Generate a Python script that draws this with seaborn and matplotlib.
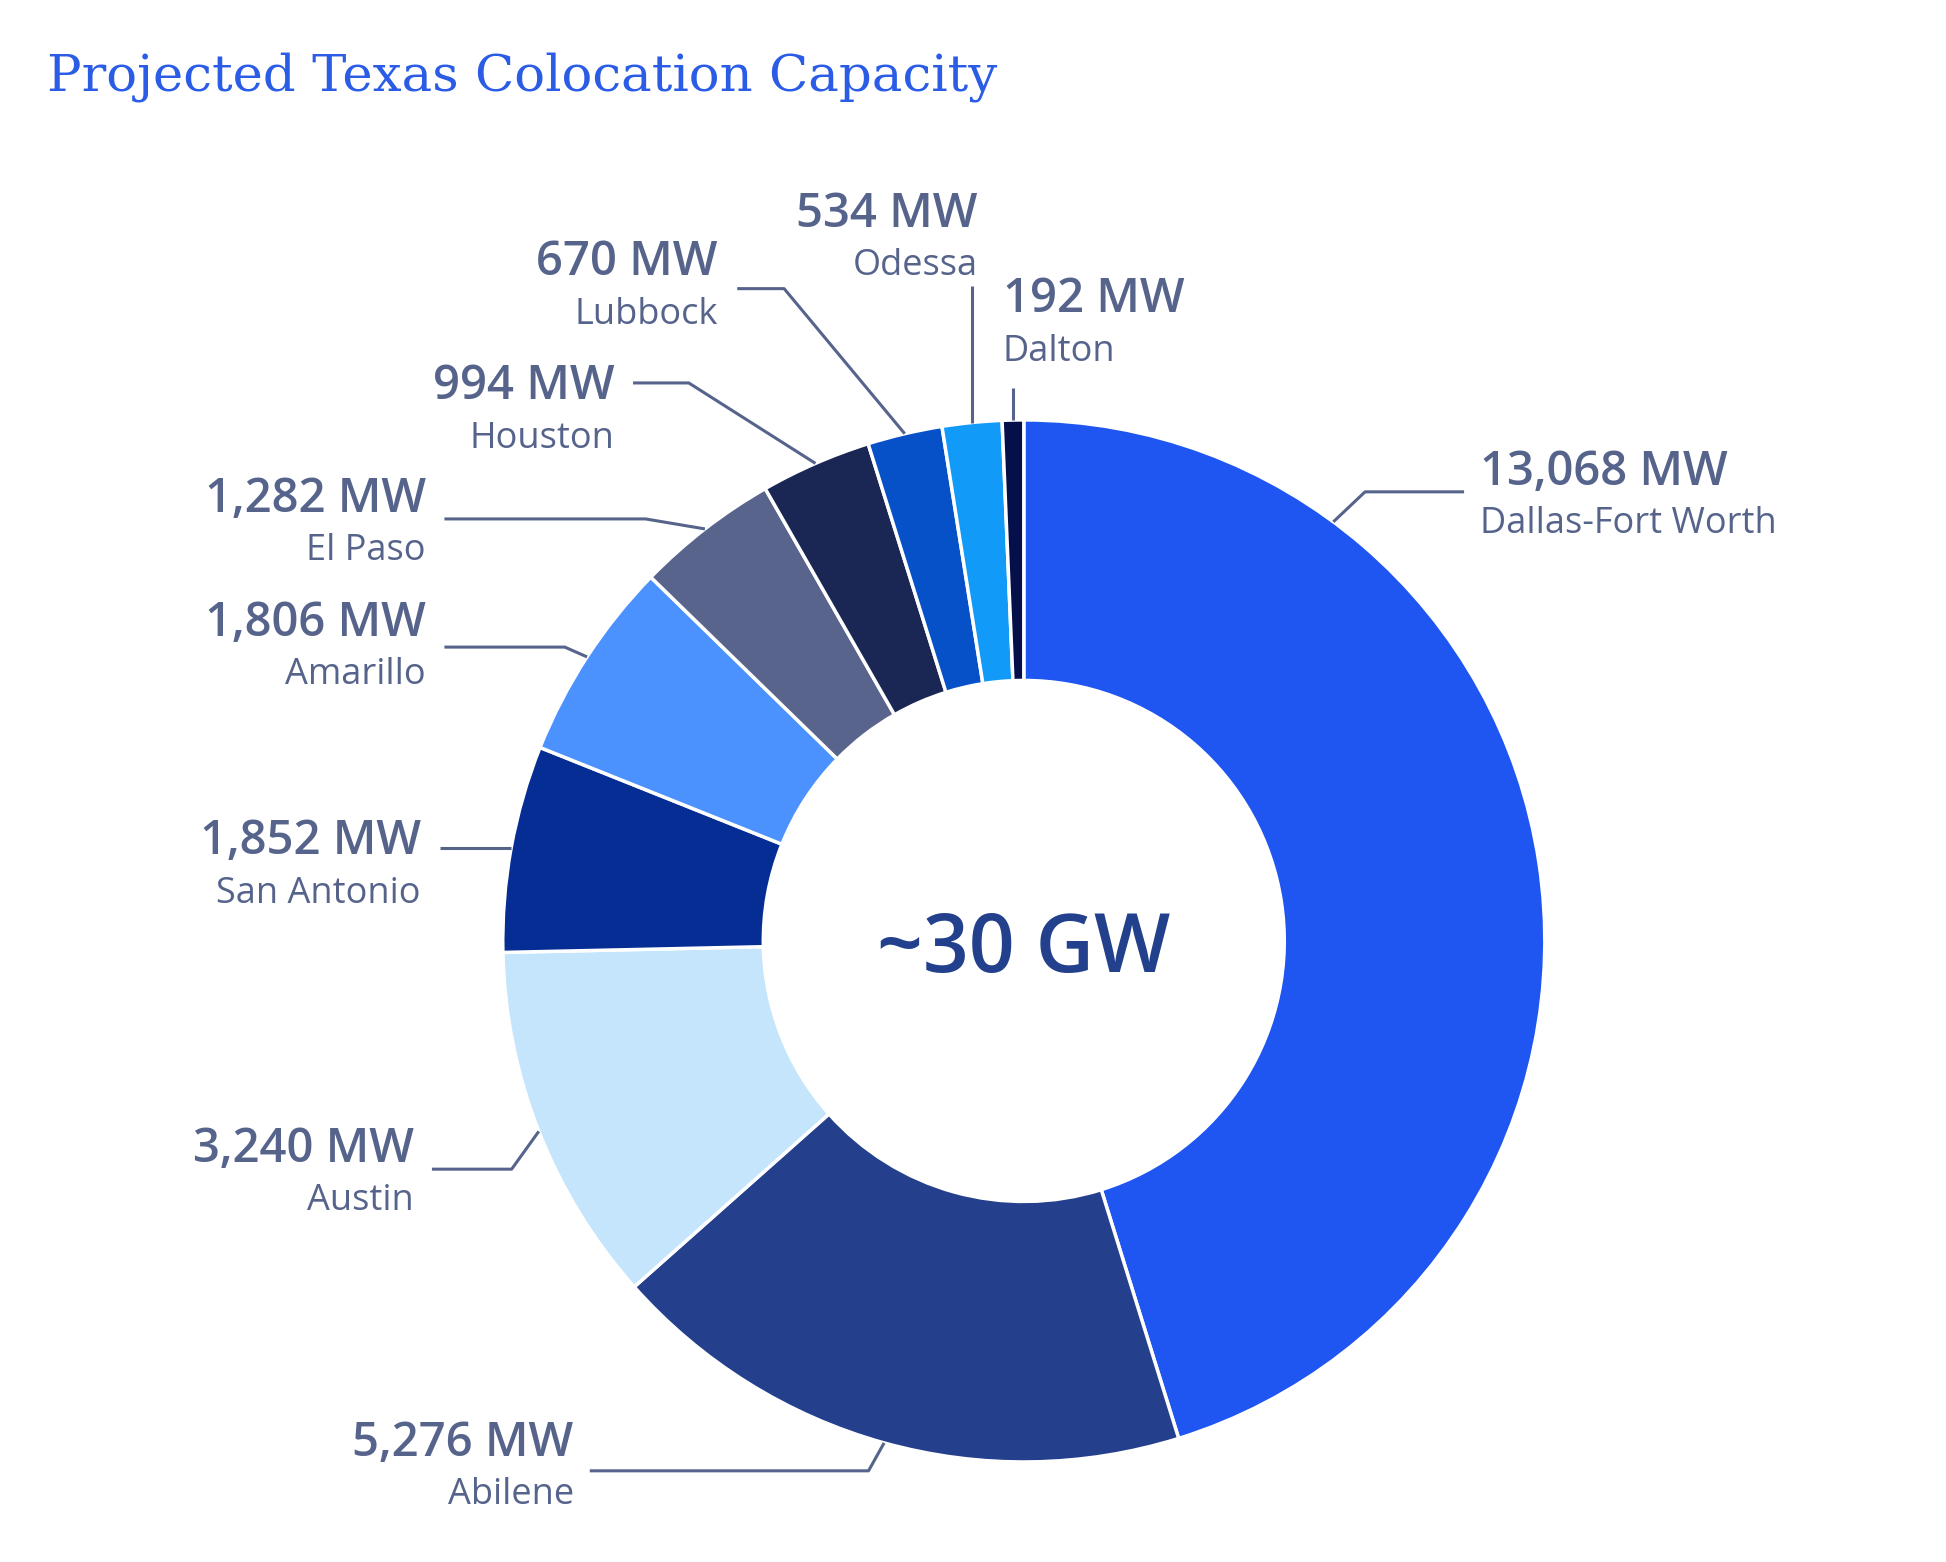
import matplotlib.pyplot as plt
import numpy as np
import seaborn as sns

# Data
cities = ["Dallas-Fort Worth", "Abilene", "Austin", "San Antonio", "Amarillo",
          "El Paso", "Houston", "Lubbock", "Odessa", "Dalton"]
capacity_mw = [13068, 5276, 3240, 1852, 1806, 1282, 994, 670, 534, 192]
colors = ["#1f55f0", "#243f8c", "#c5e5fc", "#062d94", "#4c92ff",
          "#58648c", "#1a2654", "#0650c8", "#129af8", "#050f4a"]
center_label = "~30 GW"
title = "Projected Texas Colocation Capacity"

# label layout: elbow point, end of horizontal leader, text x, value y, text alignment
# (vertical = top of a leader going straight up from the wedge)
layout = {
    "Dallas-Fort Worth": dict(frac=0.224, elbow=(0.655, 0.862), hx=0.845, tx=0.876, vy=0.90, ha="left"),
    "Abilene": dict(elbow=(-0.298, -1.017), hx=-0.833, tx=-0.864, vy=-0.964, ha="right"),
    "Austin": dict(elbow=(-0.983, -0.438), hx=-1.136, tx=-1.171, vy=-0.40, ha="right"),
    "San Antonio": dict(elbow=None, hx=-1.121, tx=-1.157, vy=0.19, ha="right"),
    "Amarillo": dict(elbow=(-0.881, 0.564), hx=-1.112, tx=-1.148, vy=0.61, ha="right"),
    "El Paso": dict(elbow=(-0.726, 0.810), hx=-1.112, tx=-1.148, vy=0.848, ha="right"),
    "Houston": dict(elbow=(-0.643, 1.071), hx=-0.75, tx=-0.786, vy=1.064, ha="right"),
    "Lubbock": dict(elbow=(-0.46, 1.252), hx=-0.55, tx=-0.588, vy=1.302, ha="right"),
    "Odessa": dict(vertical=1.257, tx=-0.088, vy=1.395, ha="right"),
    "Dalton": dict(vertical=1.062, tx=-0.040, vy=1.231, ha="left"),
}

sns.set_theme(style="white")
plt.rcParams['font.family'] = ['Open Sans', 'DejaVu Sans']

text_color = "#56648c"

fig = plt.figure(figsize=(19.46, 15.62), dpi=100)
ax = fig.add_axes([0, 0, 1, 1])

wedges, _ = ax.pie(capacity_mw, colors=colors, startangle=90, counterclock=False,
                   radius=1.0, wedgeprops=dict(width=0.5, edgecolor="white", linewidth=2.5))

for wedge, city, mw in zip(wedges, cities, capacity_mw):
    lay = layout[city]
    frac = lay.get("frac", 0.5)
    ang = np.deg2rad(wedge.theta2 - frac * (wedge.theta2 - wedge.theta1))
    px, py = np.cos(ang), np.sin(ang)
    if "vertical" in lay:
        xs = [px, px]
        ys = [py, lay["vertical"]]
    elif lay["elbow"] is None:
        xs = [px, lay["hx"]]
        ys = [py, py]
    else:
        ex, ey = lay["elbow"]
        xs = [px, ex, lay["hx"]]
        ys = [py, ey, ey]
    ax.plot(xs, ys, color=text_color, lw=2.2, solid_capstyle="butt")
    ax.text(lay["tx"], lay["vy"], f"{mw:,} MW", ha=lay["ha"], va="center",
            fontsize=34, fontweight="semibold", color=text_color)
    ax.text(lay["tx"], lay["vy"] - 0.1, city, ha=lay["ha"], va="center",
            fontsize=26, color=text_color)

ax.text(0, -0.02, center_label, ha="center", va="center", fontsize=58,
        fontweight="semibold", color="#22408c")

ax.set_xlim(-1.965, 1.770)
ax.set_ylim(-1.192, 1.806)
ax.set_aspect("equal")
ax.axis("off")

fig.text(0.0242, 0.951, title, ha="left", va="center", fontsize=37,
         family="DejaVu Serif", color="#2b5ce6")

fig.savefig("out.png", dpi=100, facecolor="white")
